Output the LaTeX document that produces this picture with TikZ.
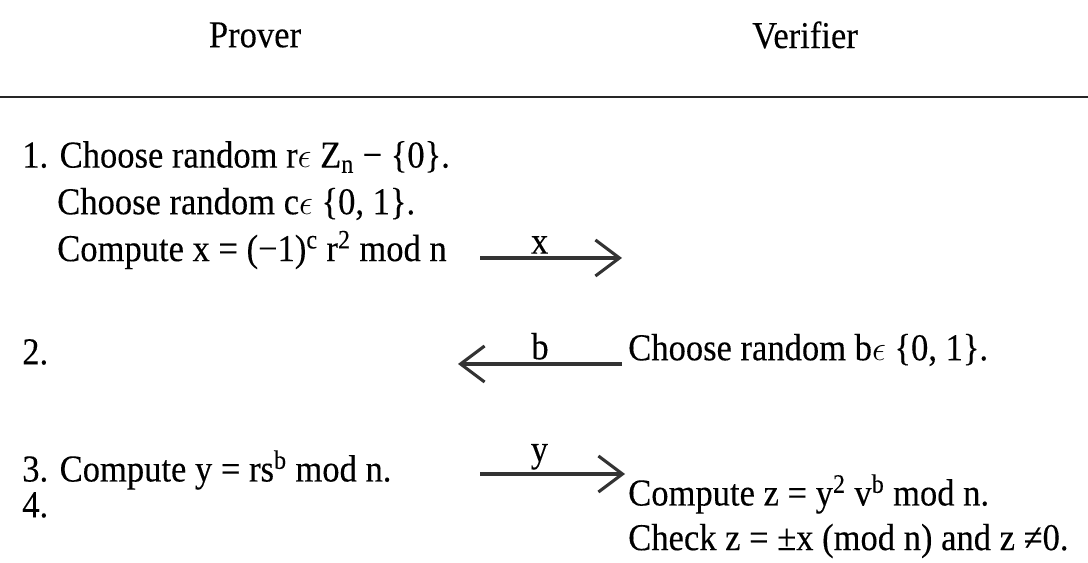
\documentclass[tikz,border=0pt]{standalone}
\usepackage{fontspec}
\setmainfont{Liberation Serif}[FakeStretch=0.91, FakeBold=0.2]
\usetikzlibrary{arrows.meta}

\begin{document}
\begin{tikzpicture}[x=0.025cm, y=-0.025cm,
    >={Straight Barb[length=6mm, width=9mm]},
    font=\fontsize{27}{33}\selectfont,
    txt/.style={anchor=west, inner sep=0pt},
    head/.style={anchor=center, inner sep=0pt},
    msg/.style={->, line width=2.2pt, black!80},
    tag/.style={above, inner sep=2pt, text=black}]
  \useasboundingbox (0,0) rectangle (1088,563);
  % ------- column heads -------
  \node[head] (prover) at (255,35) {Prover};
  \node[head] (verifier) at (805,35) {Verifier};
  \draw[line width=1.4pt, black!85] (0,97) -- (1088,97);
  % ------- prover side -------
  \node[txt] (p1a) at (22,157) {1. Choose random r$\epsilon$ Z\textsubscript{n} − \{0\}.};
  \node[txt] (p1b) at (57,204) {Choose random c$\epsilon$ \{0, 1\}.};
  \node[txt] (p1c) at (57,250) {Compute x = (−1)\textsuperscript{c} r\textsuperscript{2} mod n};
  \node[txt] (p2) at (22,352) {2.};
  \node[txt] (p3) at (22,470) {3. Compute y = rs\textsuperscript{b} mod n.};
  \node[txt] (p4) at (22,505) {4.};
  % ------- verifier side -------
  \node[txt] (v2) at (628,350) {Choose random b$\epsilon$ \{0, 1\}.};
  \node[txt] (v4a) at (628,494) {Compute z = y\textsuperscript{2} v\textsuperscript{b} mod n.};
  \node[txt] (v4b) at (628,541) {Check z = ±x (mod n) and z ≠0.};
  % ------- messages -------
  \coordinate (xs) at (480,258);
  \coordinate (xe) at (622,258);
  \coordinate (bs) at (622,364);
  \coordinate (be) at (458,364);
  \coordinate (ys) at (480,474);
  \coordinate (ye) at (625,474);
  \draw[msg] (xs) -- node[tag, pos=0.42] (mx) {x} (xe);
  \draw[msg] (bs) -- node[tag, pos=0.5] (mb) {b} (be);
  \draw[msg] (ys) -- node[tag, pos=0.41] (my) {y} (ye);
\end{tikzpicture}
\end{document}
